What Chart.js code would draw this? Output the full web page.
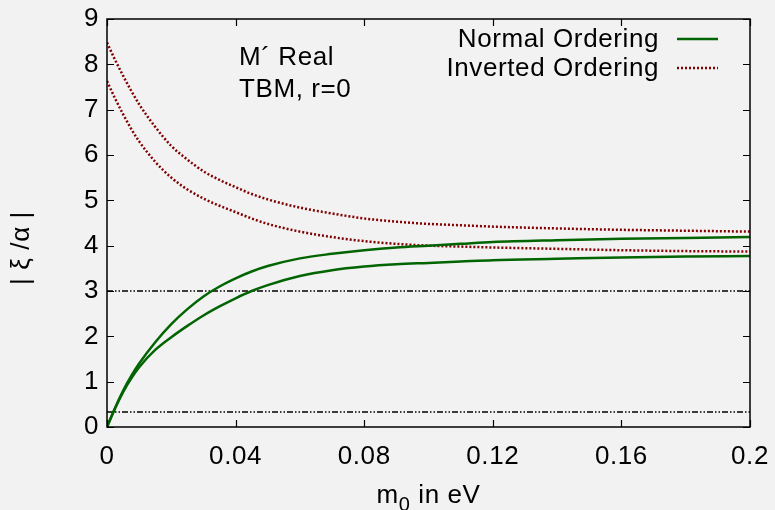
<!DOCTYPE html>
<html>
<head>
<meta charset="utf-8">
<script src="https://cdn.jsdelivr.net/npm/chart.js@4/dist/chart.umd.min.js"></script>
<style>
html,body{margin:0;padding:0;background:#f2f2f2;}
#wrap{width:775px;height:510px;}
</style>
</head>
<body>
<div id="wrap"><canvas id="c" width="775" height="510"></canvas></div>
<script>
// ---- data ----
const m0 = [0, 0.0025, 0.005, 0.0075, 0.01, 0.015, 0.02, 0.025, 0.03, 0.035, 0.04, 0.045, 0.05, 0.06, 0.07, 0.08, 0.09, 0.1, 0.11, 0.12, 0.14, 0.16, 0.18, 0.2];
const normalUpper = [0, 0.42, 0.8, 1.12, 1.4, 1.87, 2.27, 2.6, 2.88, 3.1, 3.28, 3.43, 3.55, 3.72, 3.82, 3.9, 3.96, 4.0, 4.04, 4.08, 4.12, 4.15, 4.17, 4.19];
const normalLower = [0, 0.41, 0.77, 1.07, 1.32, 1.7, 1.98, 2.23, 2.46, 2.66, 2.84, 3.0, 3.13, 3.33, 3.46, 3.54, 3.59, 3.62, 3.65, 3.68, 3.71, 3.74, 3.76, 3.77];
const invertedUpper = [8.48, 8.1, 7.75, 7.42, 7.12, 6.62, 6.2, 5.9, 5.64, 5.45, 5.29, 5.14, 5.02, 4.84, 4.71, 4.6, 4.53, 4.48, 4.45, 4.42, 4.38, 4.35, 4.33, 4.31];
const invertedLower = [7.63, 7.25, 6.9, 6.58, 6.3, 5.85, 5.5, 5.24, 5.04, 4.88, 4.74, 4.6, 4.48, 4.31, 4.19, 4.1, 4.04, 4.0, 3.98, 3.96, 3.93, 3.9, 3.88, 3.87];
const refLevels = [3, 0.33];
const xRange = [0, 0.2];
const yRange = [0, 9];
const xTicks = [0, 0.04, 0.08, 0.12, 0.16, 0.2];
const xTickLabels = ['0', '0.04', '0.08', '0.12', '0.16', '0.2'];
const yTicks = [0, 1, 2, 3, 4, 5, 6, 7, 8, 9];
const yTickLabels = ['0', '1', '2', '3', '4', '5', '6', '7', '8', '9'];
const legendLabels = ['Normal Ordering', 'Inverted Ordering'];
const notes = ['M\u00B4 Real', 'TBM, r=0'];
const xTitleParts = ['m', '0', ' in eV'];
const yTitle = '| \u03BE /\u03B1 |';

// ---- styling ----
const FONT = "'Liberation Sans', Arial, sans-serif";
const FS = 26;
const GREEN = '#006400';
const RED = '#800000';
const DOT = [2, 2];
const DASHDOT = [6, 2, 1.5, 2, 1.5, 2];

const pts = ys => m0.map((x, i) => ({x: x, y: ys[i]}));
const datasets = [
  {label: legendLabels[0], data: pts(normalUpper), borderColor: GREEN, borderWidth: 2.5, legend: 0},
  {label: legendLabels[0], data: pts(normalLower), borderColor: GREEN, borderWidth: 2.5},
  {label: legendLabels[1], data: pts(invertedUpper), borderColor: RED, borderWidth: 2.5, borderDash: DOT, legend: 1},
  {label: legendLabels[1], data: pts(invertedLower), borderColor: RED, borderWidth: 2.5, borderDash: DOT}
];
refLevels.forEach(v => datasets.push({
  label: 'ref', data: [{x: xRange[0], y: v}, {x: xRange[1], y: v}],
  borderColor: '#000', borderWidth: 1.4, borderDash: DASHDOT, cubicInterpolationMode: 'default', tension: 0
}));
datasets.forEach(d => { d.pointRadius = 0; d.fill = false; if (!d.cubicInterpolationMode) d.cubicInterpolationMode = 'monotone'; d.borderCapStyle = 'butt'; });

const deco = {
  id: 'deco',
  beforeDraw(chart) {
    const ctx = chart.ctx;
    ctx.save();
    ctx.fillStyle = '#f2f2f2';
    ctx.fillRect(0, 0, chart.width, chart.height);
    ctx.restore();
    try { ctx.letterSpacing = '0.6px'; } catch (e) {}
  },
  afterDraw(chart) {
    const {ctx, chartArea: a} = chart;
    const sx = chart.scales.x, sy = chart.scales.y;
    ctx.save();
    // frame
    ctx.strokeStyle = '#000';
    ctx.lineWidth = 1.5;
    ctx.setLineDash([]);
    ctx.strokeRect(a.left, a.top, a.right - a.left, a.bottom - a.top);
    // inward ticks, mirrored
    ctx.lineWidth = 1.2;
    ctx.beginPath();
    xTicks.forEach(v => {
      const p = Math.round(sx.getPixelForValue(v)) + 0.5;
      ctx.moveTo(p, a.bottom); ctx.lineTo(p, a.bottom - 7);
      ctx.moveTo(p, a.top); ctx.lineTo(p, a.top + 7);
    });
    yTicks.forEach(v => {
      const p = Math.round(sy.getPixelForValue(v)) + 0.5;
      ctx.moveTo(a.left, p); ctx.lineTo(a.left + 7, p);
      ctx.moveTo(a.right, p); ctx.lineTo(a.right - 7, p);
    });
    ctx.stroke();

    ctx.fillStyle = '#000';
    ctx.font = FS + 'px ' + FONT;
    try { ctx.letterSpacing = '0.6px'; } catch (e) {}
    ctx.textBaseline = 'alphabetic';
    // legend (text right-aligned, sample on the right)
    const legY = [47, 76];
    chart.data.datasets.forEach(d => {
      if (d.legend === undefined) return;
      const i = d.legend;
      ctx.textAlign = 'right';
      ctx.fillText(d.label, 659, legY[i]);
      ctx.save();
      ctx.strokeStyle = d.borderColor;
      ctx.lineWidth = d.borderWidth;
      ctx.setLineDash(d.borderDash || []);
      ctx.beginPath();
      const ly = legY[i] - 8;
      ctx.moveTo(677, ly); ctx.lineTo(718, ly);
      ctx.stroke();
      ctx.restore();
    });
    // annotation
    ctx.textAlign = 'left';
    ctx.fillText(notes[0], 239, 65);
    ctx.fillText(notes[1], 239, 97);
    // x title with subscript
    const f2 = '20px ' + FONT;
    ctx.font = FS + 'px ' + FONT;
    const w0 = ctx.measureText(xTitleParts[0]).width;
    const w2 = ctx.measureText(xTitleParts[2]).width;
    ctx.font = f2;
    const w1 = ctx.measureText(xTitleParts[1]).width;
    const cx = (a.left + a.right) / 2;
    let xx = cx - (w0 + w1 + w2) / 2;
    ctx.font = FS + 'px ' + FONT;
    ctx.fillText(xTitleParts[0], xx, 503);
    xx += w0;
    ctx.font = f2;
    ctx.fillText(xTitleParts[1], xx, 511);
    xx += w1;
    ctx.font = FS + 'px ' + FONT;
    ctx.fillText(xTitleParts[2], xx, 503);
    // y title
    ctx.save();
    ctx.translate(22, 248);
    ctx.rotate(-Math.PI / 2);
    ctx.textAlign = 'center';
    ctx.textBaseline = 'middle';
    ctx.fillText(yTitle, 0, 0);
    ctx.restore();
    ctx.restore();
  }
};

new Chart(document.getElementById('c'), {
  type: 'line',
  data: {datasets: datasets},
  options: {
    responsive: false,
    animation: false,
    devicePixelRatio: 1,
    layout: {padding: {left: 0, top: 19, right: 25, bottom: 0}},
    plugins: {legend: {display: false}, tooltip: {enabled: false}, title: {display: false}},
    scales: {
      x: {
        type: 'linear', min: xRange[0], max: xRange[1],
        afterBuildTicks: s => { s.ticks = xTicks.map(v => ({value: v})); },
        afterFit: s => { s.height = 83; s.paddingLeft = 0; s.paddingRight = 0; s.paddingTop = 0; s.paddingBottom = 0; },
        grid: {display: false, drawTicks: false, tickLength: 0},
        border: {display: false},
        ticks: {
          callback: (v, i) => xTickLabels[i],
          font: {family: FONT, size: FS}, color: '#000', padding: 14,
          maxRotation: 0, autoSkip: false
        }
      },
      y: {
        type: 'linear', min: yRange[0], max: yRange[1],
        afterBuildTicks: s => { s.ticks = yTicks.map(v => ({value: v})); },
        afterFit: s => { s.width = 107; s.paddingLeft = 0; s.paddingRight = 0; s.paddingTop = 0; s.paddingBottom = 0; },
        grid: {display: false, drawTicks: false, tickLength: 0},
        border: {display: false},
        ticks: {
          callback: (v, i) => yTickLabels[i],
          font: {family: FONT, size: FS}, color: '#000', padding: 8,
          autoSkip: false
        }
      }
    }
  },
  plugins: [deco]
});
</script>
</body>
</html>
